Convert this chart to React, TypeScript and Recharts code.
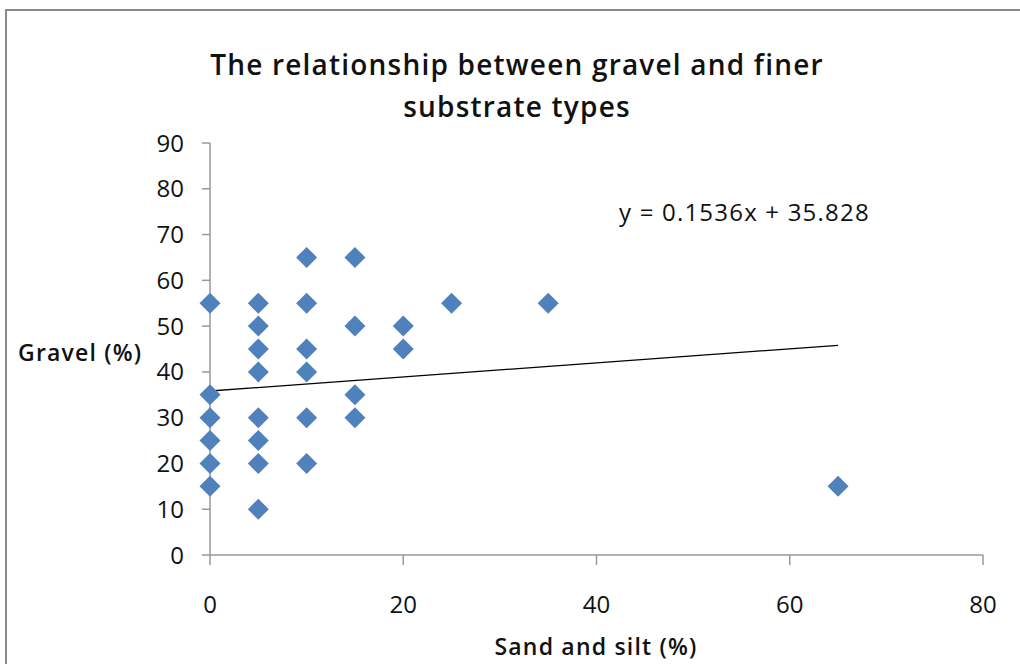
import React from 'react';
import { ScatterChart, Scatter, XAxis, YAxis, ReferenceLine } from 'recharts';

const sandSilt = [0, 0, 0, 0, 0, 0, 5, 5, 5, 5, 5, 5, 5, 5, 10, 10, 10, 10, 10, 10, 15, 15, 15, 15, 20, 20, 25, 35, 65];
const gravel = [55, 35, 30, 25, 20, 15, 55, 50, 45, 40, 30, 25, 20, 10, 65, 55, 45, 40, 30, 20, 65, 50, 35, 30, 50, 45, 55, 55, 15];
const xTicks = [0, 20, 40, 60, 80];
const yTicks = [0, 10, 20, 30, 40, 50, 60, 70, 80, 90];
const trendX = [0, 65];
const trendY = [35.828, 45.812];
const equationText = 'y = 0.1536x + 35.828';
const titleLines = ['The relationship between gravel and finer', 'substrate types'];
const xLabel = 'Sand and silt (%)';
const yLabel = 'Gravel (%)';

const points = sandSilt.map((x, i) => ({ x, y: gravel[i] }));

const FONT = "'Open Sans', 'Noto Sans', sans-serif";

const Diamond = (props: any) => {
  const { cx, cy } = props;
  const r = 10.5;
  return (
    <polygon
      points={`${cx},${cy - r} ${cx + r},${cy} ${cx},${cy + r} ${cx - r},${cy}`}
      fill="#4F81BD"
    />
  );
};

export default function App() {
  return (
    <div style={{ position: 'absolute', left: 0, top: 0, width: 1020, height: 664, overflow: 'hidden', background: '#fff', fontFamily: FONT }}>
      <div style={{ position: 'absolute', left: 5, top: 9, width: 1200, height: 900, border: '2px solid #8a8a8a', boxSizing: 'border-box' }} />
      <ScatterChart width={1020} height={664} margin={{ top: 143, right: 37, bottom: 0, left: 0 }}>
        <XAxis
          type="number"
          dataKey="x"
          domain={[0, 80]}
          ticks={xTicks}
          tickSize={10}
          tickMargin={31}
          axisLine={{ stroke: '#989898', strokeWidth: 1.5 }}
          tickLine={{ stroke: '#989898', strokeWidth: 1.5 }}
          tick={{ fill: '#111', fontSize: 24, fontFamily: FONT }}
          height={109}
        />
        <YAxis
          type="number"
          dataKey="y"
          domain={[0, 90]}
          ticks={yTicks}
          tickSize={8}
          tickMargin={18}
          axisLine={{ stroke: '#989898', strokeWidth: 1.5 }}
          tickLine={{ stroke: '#989898', strokeWidth: 1.5 }}
          tick={{ fill: '#111', fontSize: 24, fontFamily: FONT }}
          width={210}
        />
        <ReferenceLine
          segment={[{ x: trendX[0], y: trendY[0] }, { x: trendX[1], y: trendY[1] }]}
          stroke="#000"
          strokeWidth={1.3}
          ifOverflow="visible"
        />
        <Scatter data={points} shape={<Diamond />} isAnimationActive={false} />
      </ScatterChart>
      <div style={{ position: 'absolute', left: 0, width: 1034, top: 43, textAlign: 'center', fontWeight: 600, fontSize: 28, lineHeight: '42px', color: '#111', letterSpacing: 1.2 }}>
        {titleLines.map((t) => (
          <div key={t}>{t}</div>
        ))}
      </div>
      <div style={{ position: 'absolute', left: 18, top: 336, fontWeight: 600, fontSize: 23, color: '#111', whiteSpace: 'nowrap', letterSpacing: 1.2 }}>{yLabel}</div>
      <div style={{ position: 'absolute', left: 0, width: 1192, top: 630, textAlign: 'center', fontWeight: 600, fontSize: 23, color: '#111', whiteSpace: 'nowrap', letterSpacing: 1.2 }}>{xLabel}</div>
      <div style={{ position: 'absolute', left: 619, top: 195, fontSize: 24, color: '#111', whiteSpace: 'nowrap', letterSpacing: 1.2 }}>{equationText}</div>
    </div>
  );
}
